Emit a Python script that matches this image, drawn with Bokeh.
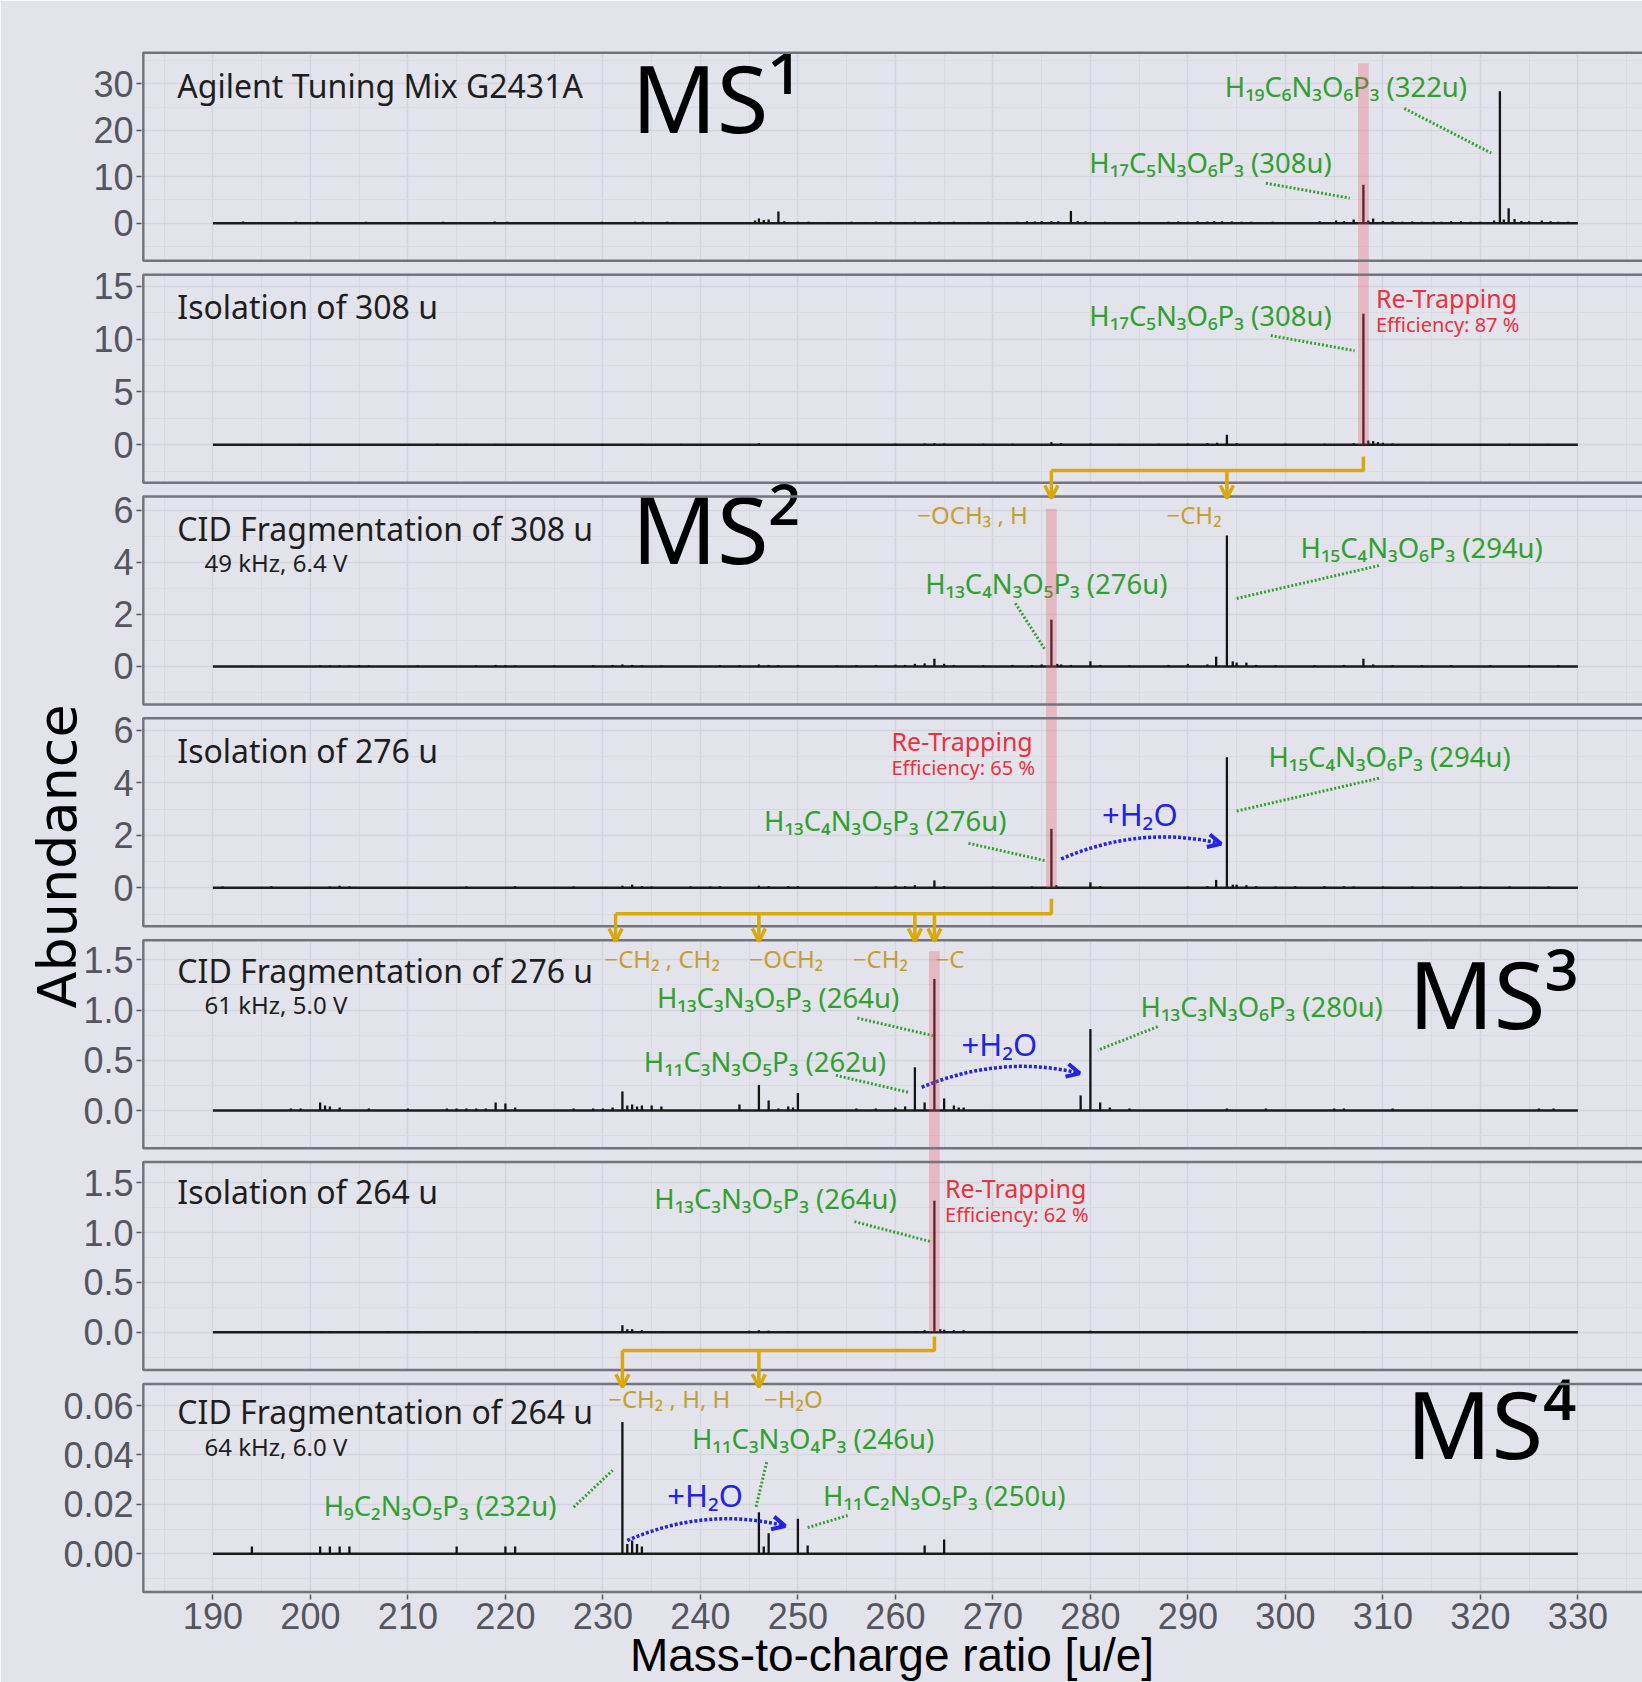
import math
from bokeh.plotting import figure
from bokeh.models import Range1d, FixedTicker, Arrow, OpenHead, Title
from bokeh.core.properties import value
from bokeh.embed import file_html
from bokeh.resources import INLINE

# ------------------------------------------------------------------ data
X_TICKS = [190, 200, 210, 220, 230, 240, 250, 260, 270, 280, 290, 300, 310, 320, 330]
X_MINOR_TICKS = [185, 195, 205, 215, 225, 235, 245, 255, 265, 275, 285, 295, 305, 315, 325, 335]
SPECTRUM_RANGE = (190, 330)

PANEL_TITLES = ["Agilent Tuning Mix G2431A", "Isolation of 308 u", "CID Fragmentation of 308 u",
                "Isolation of 276 u", "CID Fragmentation of 276 u", "Isolation of 264 u",
                "CID Fragmentation of 264 u"]
PANEL_SUBTITLES = ["", "", "49 kHz, 6.4 V", "", "61 kHz, 5.0 V", "", "64 kHz, 6.0 V"]
STAGE_LABELS = ["MS¹", "MS²", "MS³", "MS⁴"]
STAGE_PANELS = [0, 2, 4, 6]

Y_TICKS = [[0, 10, 20, 30], [0, 5, 10, 15], [0, 2, 4, 6], [0, 2, 4, 6],
           [0, 0.5, 1.0, 1.5], [0, 0.5, 1.0, 1.5], [0, 0.02, 0.04, 0.06]]
Y_TICK_LABELS = [["0", "10", "20", "30"], ["0", "5", "10", "15"], ["0", "2", "4", "6"],
                 ["0", "2", "4", "6"], ["0.0", "0.5", "1.0", "1.5"], ["0.0", "0.5", "1.0", "1.5"],
                 ["0.00", "0.02", "0.04", "0.06"]]
Y_MINOR_TICKS = [[-5, 5, 15, 25, 35], [-2.5, 2.5, 7.5, 12.5], [-1, 1, 3, 5], [-1, 1, 3, 5],
                 [-0.25, 0.25, 0.75, 1.25], [-0.25, 0.25, 0.75, 1.25], [-0.01, 0.01, 0.03, 0.05]]
Y_LIMITS = [(-8.09, 36.67), (-3.58, 16.09), (-1.462, 6.538), (-1.470, 6.463),
            (-0.3752, 1.695), (-0.380, 1.708), (-0.01541, 0.06874)]

# MS1: Agilent tuning mix
MZ_1 = [193.1, 198.5, 200.7, 205.7, 213.6, 218.9, 220.2, 229.9, 233.3, 234.1, 236.6, 237.1, 245.6, 246.0,
        246.5, 247.0, 248.0, 248.6, 250.0, 251.1, 253.0, 254.5, 255.5, 257.0, 258.0, 259.5, 261.0, 262.0,
        263.5, 264.5, 266.0, 267.5, 269.5, 270.5, 271.5, 272.5, 273.5, 274.3, 275.0, 276.0, 276.7, 278.0,
        278.7, 279.5, 281.5, 285.0, 288.0, 289.0, 290.0, 291.0, 292.0, 292.7, 293.5, 294.5, 295.5, 296.5,
        298.7, 303.5, 305.2, 306.0, 307.0, 308.0, 308.5, 309.0, 310.0, 311.0, 312.0, 313.0, 314.0, 315.2,
        316.0, 317.0, 318.0, 319.0, 320.0, 321.4, 322.0, 322.4, 322.9, 323.5, 324.2, 325.0, 326.3, 327.2,
        328.0, 329.0]
AB_1 = [0.35, 0.3, 0.3, 0.3, 0.3, 0.35, 0.3, 0.3, 0.3, 0.3, 0.3, 0.25, 0.6, 1.0,
        0.7, 0.8, 2.5, 0.4, 0.3, 0.3, 0.25, 0.25, 0.3, 0.25, 0.3, 0.3, 0.25, 0.3,
        0.3, 0.3, 0.3, 0.25, 0.3, 0.25, 0.25, 0.3, 0.4, 0.35, 0.5, 0.5, 0.4, 2.6,
        0.5, 0.4, 0.3, 0.3, 0.3, 0.35, 0.3, 0.4, 0.35, 0.5, 0.4, 0.35, 0.3, 0.3,
        0.3, 0.4, 0.6, 0.4, 0.8, 8.3, 0.6, 1.0, 0.5, 0.4, 0.3, 0.35, 0.3, 0.35,
        0.3, 0.4, 0.4, 0.3, 0.3, 0.6, 28.4, 0.8, 3.2, 0.9, 0.5, 0.4, 0.6, 0.4,
        0.3, 0.3]
# Isolation of 308 u
MZ_2 = [193.0, 199.0, 205.0, 213.0, 216.0, 219.0, 230.0, 234.0, 238.0, 246.0, 250.0, 255.0, 260.0, 263.0,
        264.0, 265.0, 269.0, 272.0, 276.0, 277.0, 280.0, 283.0, 287.0, 290.0, 292.0, 293.0, 294.0, 295.0,
        300.0, 304.0, 307.0, 308.0, 308.5, 309.0, 309.5, 310.0, 311.0, 315.0, 320.0, 323.0, 327.0]
AB_2 = [0.08, 0.08, 0.08, 0.1, 0.08, 0.08, 0.08, 0.08, 0.08, 0.15, 0.08, 0.08, 0.1, 0.12,
        0.15, 0.12, 0.1, 0.1, 0.25, 0.15, 0.12, 0.08, 0.1, 0.12, 0.15, 0.2, 0.95, 0.15,
        0.1, 0.1, 0.15, 12.4, 0.4, 0.35, 0.25, 0.2, 0.12, 0.08, 0.08, 0.1, 0.08]
# CID fragmentation of 308 u
MZ_3 = [194.0, 201.0, 202.0, 203.0, 204.0, 205.0, 206.0, 211.0, 217.0, 219.0, 220.0, 221.0, 225.0, 229.0,
        231.0, 232.0, 233.0, 234.0, 236.0, 242.0, 244.0, 246.0, 247.0, 248.0, 250.0, 254.0, 256.0, 258.0,
        260.0, 261.0, 262.0, 263.0, 264.0, 265.0, 266.0, 269.0, 272.0, 274.0, 275.0, 276.0, 276.6, 277.0,
        278.0, 280.0, 281.0, 284.0, 288.0, 290.0, 292.0, 292.9, 294.0, 294.6, 295.0, 296.0, 297.0, 299.0,
        303.0, 306.0, 308.0, 309.0, 311.0, 314.0, 317.0, 321.0, 325.0, 328.0]
AB_3 = [0.03, 0.04, 0.04, 0.04, 0.04, 0.05, 0.04, 0.04, 0.04, 0.06, 0.05, 0.04, 0.04, 0.05,
        0.06, 0.08, 0.06, 0.05, 0.04, 0.05, 0.05, 0.08, 0.06, 0.05, 0.06, 0.04, 0.05, 0.06,
        0.07, 0.06, 0.1, 0.12, 0.3, 0.1, 0.06, 0.05, 0.06, 0.05, 0.08, 1.8, 0.1, 0.08,
        0.06, 0.2, 0.06, 0.05, 0.06, 0.1, 0.08, 0.38, 5.04, 0.2, 0.15, 0.15, 0.06, 0.05,
        0.05, 0.06, 0.3, 0.08, 0.05, 0.05, 0.05, 0.05, 0.05, 0.05]
# Isolation of 276 u
MZ_4 = [191.0, 196.0, 202.0, 203.0, 204.0, 216.0, 221.0, 227.0, 232.0, 233.0, 234.0, 235.0, 239.0, 241.0,
        242.0, 246.0, 247.0, 249.0, 250.0, 258.0, 260.0, 261.0, 262.0, 264.0, 265.0, 270.0, 274.0, 276.0,
        276.5, 280.0, 281.0, 290.0, 292.0, 292.9, 294.0, 294.6, 295.0, 296.0, 297.0, 299.0, 301.0, 304.0,
        306.0, 307.0, 310.0, 313.0, 315.0, 318.0, 320.0, 323.0, 327.0]
AB_4 = [0.05, 0.06, 0.05, 0.08, 0.05, 0.05, 0.06, 0.05, 0.08, 0.12, 0.06, 0.05, 0.05, 0.05,
        0.06, 0.08, 0.06, 0.06, 0.06, 0.05, 0.08, 0.06, 0.1, 0.28, 0.06, 0.05, 0.05, 2.25,
        0.1, 0.21, 0.06, 0.05, 0.06, 0.3, 4.98, 0.12, 0.12, 0.1, 0.06, 0.05, 0.06, 0.06,
        0.06, 0.05, 0.05, 0.05, 0.05, 0.05, 0.05, 0.05, 0.05]
# CID fragmentation of 276 u
MZ_5 = [198.0, 199.0, 201.0, 201.5, 202.0, 203.0, 206.0, 210.0, 214.0, 215.0, 216.0, 217.0, 218.0, 219.0,
        220.0, 221.0, 227.0, 229.0, 230.0, 231.0, 232.0, 232.5, 233.0, 233.5, 234.0, 235.0, 236.0, 244.0,
        246.0, 247.0, 248.0, 249.0, 249.5, 250.0, 256.0, 258.0, 260.0, 261.0, 262.0, 263.0, 264.0, 265.0,
        266.0, 266.5, 267.0, 279.0, 280.0, 281.0, 282.0, 284.0, 294.0, 298.0, 305.0, 306.0, 311.0, 326.0,
        327.5]
AB_5 = [0.02, 0.02, 0.08, 0.05, 0.04, 0.03, 0.02, 0.02, 0.02, 0.02, 0.02, 0.02, 0.02, 0.08,
        0.07, 0.03, 0.02, 0.02, 0.02, 0.03, 0.19, 0.05, 0.06, 0.04, 0.05, 0.05, 0.04, 0.06,
        0.255, 0.1, 0.02, 0.04, 0.03, 0.175, 0.02, 0.02, 0.03, 0.04, 0.43, 0.08, 1.31, 0.12,
        0.05, 0.03, 0.03, 0.15, 0.81, 0.08, 0.03, 0.02, 0.02, 0.02, 0.02, 0.02, 0.02, 0.02,
        0.02]
# Isolation of 264 u
MZ_6 = [200.0, 201.0, 202.0, 205.0, 208.0, 211.0, 217.0, 220.0, 232.0, 232.5, 233.0, 234.0, 236.0, 245.0,
        246.0, 247.0, 249.0, 262.0, 263.0, 264.0, 264.6, 265.0, 266.0, 267.0, 270.0, 280.0, 308.0]
AB_6 = [0.01, 0.01, 0.01, 0.01, 0.01, 0.01, 0.01, 0.01, 0.07, 0.03, 0.03, 0.02, 0.01, 0.015,
        0.02, 0.015, 0.01, 0.01, 0.02, 1.32, 0.03, 0.025, 0.02, 0.02, 0.01, 0.015, 0.01]
# CID fragmentation of 264 u
MZ_7 = [194.0, 201.0, 202.0, 203.0, 204.0, 215.0, 220.0, 221.0, 232.0, 232.5, 233.0, 233.5, 234.0, 246.0,
        246.5, 247.0, 250.0, 251.0, 263.0, 265.0]
AB_7 = [0.003, 0.003, 0.003, 0.003, 0.003, 0.003, 0.003, 0.003, 0.0533, 0.004, 0.0054, 0.004, 0.003, 0.0168,
        0.003, 0.0083, 0.0142, 0.0034, 0.0034, 0.0058]
SPECTRA = [(MZ_1, AB_1), (MZ_2, AB_2), (MZ_3, AB_3), (MZ_4, AB_4), (MZ_5, AB_5), (MZ_6, AB_6), (MZ_7, AB_7)]

# annotations, in data units of their panel (m/z, abundance)
TITLE_POS = [(186.35, 27.1), (186.35, 11.95), (186.35, 4.85), (186.35, 4.79),
             (186.35, 1.277), (186.35, 1.289), (186.35, 0.0526)]
SUBTITLE_POS = [None, None, (189.14, 3.63), None, (189.14, 0.962), None, (189.14, 0.0398)]
STAGE_POS = [(232.93, 19.37), (232.96, 3.95), (312.63, 0.813), (312.4, 0.0384)]

ION_LABELS = [
    (0, 293.78, 27.1, "H₁₉C₆N₃O₆P₃ (322u)"),
    (0, 279.89, 10.76, "H₁₇C₅N₃O₆P₃ (308u)"),
    (1, 279.89, 11.28, "H₁₇C₅N₃O₆P₃ (308u)"),
    (2, 263.05, 2.80, "H₁₃C₄N₃O₅P₃ (276u)"),
    (2, 301.55, 4.18, "H₁₅C₄N₃O₆P₃ (294u)"),
    (3, 246.53, 2.185, "H₁₃C₄N₃O₅P₃ (276u)"),
    (3, 298.26, 4.60, "H₁₅C₄N₃O₆P₃ (294u)"),
    (4, 235.54, 1.022, "H₁₃C₃N₃O₅P₃ (264u)"),
    (4, 234.19, 0.381, "H₁₁C₃N₃O₅P₃ (262u)"),
    (4, 285.14, 0.929, "H₁₃C₃N₃O₆P₃ (280u)"),
    (5, 235.27, 1.239, "H₁₃C₃N₃O₅P₃ (264u)"),
    (6, 201.36, 0.0155, "H₉C₂N₃O₅P₃ (232u)"),
    (6, 239.13, 0.0425, "H₁₁C₃N₃O₄P₃ (246u)"),
    (6, 252.58, 0.0195, "H₁₁C₂N₃O₅P₃ (250u)"),
]
ION_LEADERS = [
    (0, 312.2, 24.7, 321.1, 15.1), (0, 298.0, 8.6, 306.6, 5.4), (1, 298.5, 10.33, 307.1, 8.9),
    (2, 309.6, 3.88, 294.8, 2.6), (2, 272.3, 2.43, 275.3, 0.68),
    (3, 309.6, 4.18, 294.8, 2.91), (3, 267.5, 1.7, 275.3, 1.04),
    (4, 256.1, 0.92, 263.85, 0.745), (4, 253.9, 0.35, 261.4, 0.18), (4, 286.9, 0.835, 280.75, 0.60),
    (5, 255.8, 1.11, 263.6, 0.91),
    (6, 227.0, 0.0189, 231.0, 0.0338), (6, 246.8, 0.0371, 245.7, 0.0189), (6, 251.0, 0.0106, 255.1, 0.0155),
]
RETRAP = [(1, 309.28, 12.99, 10.65, "Efficiency: 87 %"),
          (3, 259.6, 5.24, 4.28, "Efficiency: 65 %"),
          (5, 265.09, 1.355, 1.104, "Efficiency: 62 %")]
LOSSES = [(2, 262.25, 5.49, "−OCH₃ , H"), (2, 287.8, 5.49, "−CH₂"),
          (4, 230.16, 1.426, "−CH₂ , CH₂"), (4, 245.03, 1.426, "−OCH₂"), (4, 255.64, 1.426, "−CH₂"),
          (4, 264.11, 1.426, "−C"),
          (6, 230.54, 0.0593, "−CH₂ , H, H"), (6, 246.53, 0.0593, "−H₂O")]
# (panel, x0, y0, x1, y1, ctrl_x, ctrl_y, label_x, label_y)
WATER = [(3, 277.0, 1.1, 293.4, 1.68, 285.2, 2.41, 281.18, 2.376),
         (4, 262.7, 0.23, 278.9, 0.37, 270.8, 0.56, 266.78, 0.547),
         (6, 232.5, 0.0054, 248.7, 0.0112, 240.6, 0.0193, 236.6, 0.01885)]
# isolated precursor bands: (m/z, upper panel, top value, lower panel)
BANDS = [(308, 0, 34.4, 1), (276, 2, 6.07, 3), (264, 4, 1.586, 5)]
# fragmentation connectors: (panel, precursor, drop start, bar level, arrow tip, products)
CONNECTORS = [(1, 308, -1.107, -2.43, -5.08, [276, 294]),
              (3, 276, -0.42, -0.99, -2.05, [231.3, 246, 262, 264]),
              (5, 264, -0.043, -0.184, -0.552, [232, 246])]

# ------------------------------------------------------------------ layout / style
BG = "#e3e3ec"
GRID_MAJOR = "#d5d5df"
GRID_MINOR = "#dadae3"
BORDER = "#74747e"
GREEN = "#30a030"
RED = "#e8323f"
GOLD = "#d9a80c"
GOLD_TXT = "#c4a033"
BLUE = "#2323e2"
TICK_TXT = "#55555e"
NOTO = value("Noto Sans")
BASE_SHIFT = 0.38   # em fraction used to put the alphabetic baseline where intended

PX_PER_U = 9.75
X0_PAGE = 212.4
W, H = 1642, 1682
FRAME_LEFT, FRAME_RIGHT = 141.0, 1642.0
FRAME_TOP, FRAME_BOTTOM = 50.0, 1594.0
PANEL_LEFT_PAGE = 142.8
PANEL_TOP0, PANEL_PITCH, PANEL_H = 52.3, 221.85, 208.0


def px_to_mz(xp):
    return 190 + (xp - X0_PAGE) / PX_PER_U


X_START, X_END = px_to_mz(FRAME_LEFT), px_to_mz(FRAME_RIGHT)
X_PANEL_LEFT = px_to_mz(PANEL_LEFT_PAGE)


def panel_box(k):
    top = PANEL_TOP0 + k * PANEL_PITCH
    return top, top + PANEL_H


def to_global(k, v):
    top, bot = panel_box(k)
    lo, hi = Y_LIMITS[k]
    return bot - (v - lo) * PANEL_H / (hi - lo)


p = figure(width=W, height=H, x_range=Range1d(X_START, X_END),
           y_range=Range1d(FRAME_BOTTOM, FRAME_TOP),
           output_backend="svg", toolbar_location=None,
           min_border_left=int(FRAME_LEFT), min_border_right=0,
           min_border_top=int(FRAME_TOP), min_border_bottom=int(H - FRAME_BOTTOM))
p.background_fill_color = BG
p.border_fill_color = BG
p.outline_line_color = None

for k in range(7):
    top, bot = panel_box(k)
    lo, hi = Y_LIMITS[k]
    s = (hi - lo) / PANEL_H
    p.extra_y_ranges[f"p{k}"] = Range1d(lo + (bot - FRAME_BOTTOM) * s, lo + (bot - FRAME_TOP) * s)

# axes
ytick_pos, ytick_minor, overrides = [], [], {}
for k in range(7):
    for v, lab in zip(Y_TICKS[k], Y_TICK_LABELS[k]):
        gpos = to_global(k, v)
        ytick_pos.append(gpos)
        overrides[gpos] = lab
    for v in Y_MINOR_TICKS[k]:
        ytick_minor.append(to_global(k, v))
yticker = FixedTicker(ticks=ytick_pos, minor_ticks=ytick_minor)
xticker = FixedTicker(ticks=X_TICKS, minor_ticks=X_MINOR_TICKS)
p.yaxis.ticker = yticker
p.yaxis.major_label_overrides = overrides
p.xaxis.ticker = xticker
p.ygrid.ticker = yticker
p.xgrid.ticker = xticker
for ax in (p.xaxis, p.yaxis):
    ax.axis_line_color = None
    ax.major_tick_line_color = TICK_TXT
    ax.major_tick_line_width = 1.5
    ax.major_tick_out = 5
    ax.major_tick_in = 0
    ax.minor_tick_line_color = None
    ax.major_label_text_font = "Liberation Sans"
    ax.major_label_text_font_size = "36px"
    ax.major_label_text_color = TICK_TXT
    ax.major_label_standoff = 3
for gr in (p.xgrid, p.ygrid):
    gr.grid_line_color = GRID_MAJOR
    gr.grid_line_width = 1.5
    gr.minor_grid_line_color = GRID_MINOR
    gr.minor_grid_line_width = 1

p.add_layout(Title(text="Abundance", align="left", vertical_align="bottom", offset=586, standoff=-56,
                   text_font="DejaVu Sans", text_font_size="54px", text_font_style="normal",
                   text_color="#000000"), "left")
p.add_layout(Title(text="Mass-to-charge ratio [u/e]", align="center", vertical_align="bottom", standoff=-10,
                   text_font="Liberation Sans", text_font_size="46px", text_font_style="normal",
                   text_color="#000000"), "below")

# gaps between panels (hide grid there)
gap_tops, gap_bots = [FRAME_TOP - 2], [panel_box(0)[0]]
for k in range(6):
    gap_tops.append(panel_box(k)[1])
    gap_bots.append(panel_box(k + 1)[0])
gap_tops.append(panel_box(6)[1])
gap_bots.append(FRAME_BOTTOM + 2)
p.quad(left=X_START - 1, right=X_END + 1, top=gap_tops, bottom=gap_bots, fill_color=BG, line_color=None)
p.quad(left=X_START - 1, right=X_PANEL_LEFT, top=FRAME_TOP - 2, bottom=FRAME_BOTTOM + 2,
       fill_color=BG, line_color=None)

# spectra
for k, (mz, ab) in enumerate(SPECTRA):
    rn = f"p{k}"
    p.segment(x0=[SPECTRUM_RANGE[0]], y0=[0], x1=[SPECTRUM_RANGE[1]], y1=[0], y_range_name=rn,
              line_color="#1c1c1c", line_width=2.4)
    p.segment(x0=mz, y0=[0] * len(mz), x1=mz, y1=ab, y_range_name=rn,
              line_color="#141414", line_width=2.3)


def note(k, x, y, t, size, color):
    p.text(x=[x], y=[y], text=[t], y_range_name=f"p{k}", text_font=NOTO,
           text_font_size=f"{size}px", text_color=color, text_baseline="alphabetic",
           y_offset=-BASE_SHIFT * size)


# panel titles
for k in range(7):
    tx, ty = TITLE_POS[k]
    note(k, tx, ty, PANEL_TITLES[k], 32, "#1e1e1e")
    if PANEL_SUBTITLES[k]:
        sx, sy = SUBTITLE_POS[k]
        note(k, sx, sy, PANEL_SUBTITLES[k], 24, "#1e1e1e")

for lab, k, (sx, sy) in zip(STAGE_LABELS, STAGE_PANELS, STAGE_POS):
    note(k, sx, sy, lab, 94, "#000000")

# ion labels and leaders
for k, x, y, t in ION_LABELS:
    note(k, x, y, t, 27.5, GREEN)
for k, x0, y0, x1, y1 in ION_LEADERS:
    p.segment(x0=[x0], y0=[y0], x1=[x1], y1=[y1], y_range_name=f"p{k}", line_color=GREEN,
              line_width=3, line_dash="2 2")

# re-trapping efficiency
for k, x, y1, y2, eff in RETRAP:
    note(k, x, y1, "Re-Trapping", 25, RED)
    note(k, x, y2, eff, 20, RED)

# neutral losses
for k, x, y, t in LOSSES:
    note(k, x, y, t, 24, GOLD_TXT)

# water adduct arcs
for k, x0, y0, x1, y1, cx, cy, lx, ly in WATER:
    rn = f"p{k}"
    p.quadratic(x0=[x0], y0=[y0], x1=[x1], y1=[y1], cx=[cx], cy=[cy], y_range_name=rn,
                line_color=BLUE, line_width=3.5, line_dash="3 2")
    p.add_layout(Arrow(x_start=x1 - 0.03 * (x1 - cx), y_start=y1 - 0.03 * (y1 - cy), x_end=x1, y_end=y1,
                       y_range_name=rn, line_alpha=0,
                       end=OpenHead(size=13, line_color=BLUE, line_width=4)))
    note(k, lx, ly, "+H₂O", 31, BLUE)

# precursor bands
for mz, ku, top_v, kl in BANDS:
    p.quad(left=mz - 0.55, right=mz + 0.55, top=to_global(ku, top_v), bottom=to_global(kl, 0),
           fill_color="#ee5566", fill_alpha=0.3, line_color=None)

# panel borders
p.quad(left=X_PANEL_LEFT, right=X_END + 5, top=[panel_box(k)[0] for k in range(7)],
       bottom=[panel_box(k)[1] for k in range(7)], fill_color=None, line_color=BORDER, line_width=2.5)

# fragmentation connectors
for k, src, y_drop, y_bar, y_tip, prods in CONNECTORS:
    rn = f"p{k}"
    p.line(x=[src, src, min(prods)], y=[y_drop, y_bar, y_bar], y_range_name=rn,
           line_color=GOLD, line_width=3.5)
    for prod in prods:
        p.add_layout(Arrow(x_start=prod, y_start=y_bar, x_end=prod, y_end=y_tip, y_range_name=rn,
                           line_color=GOLD, line_width=3.5,
                           end=OpenHead(size=13, line_color=GOLD, line_width=3.5)))

open("out.html", "w").write(file_html(p, INLINE))
